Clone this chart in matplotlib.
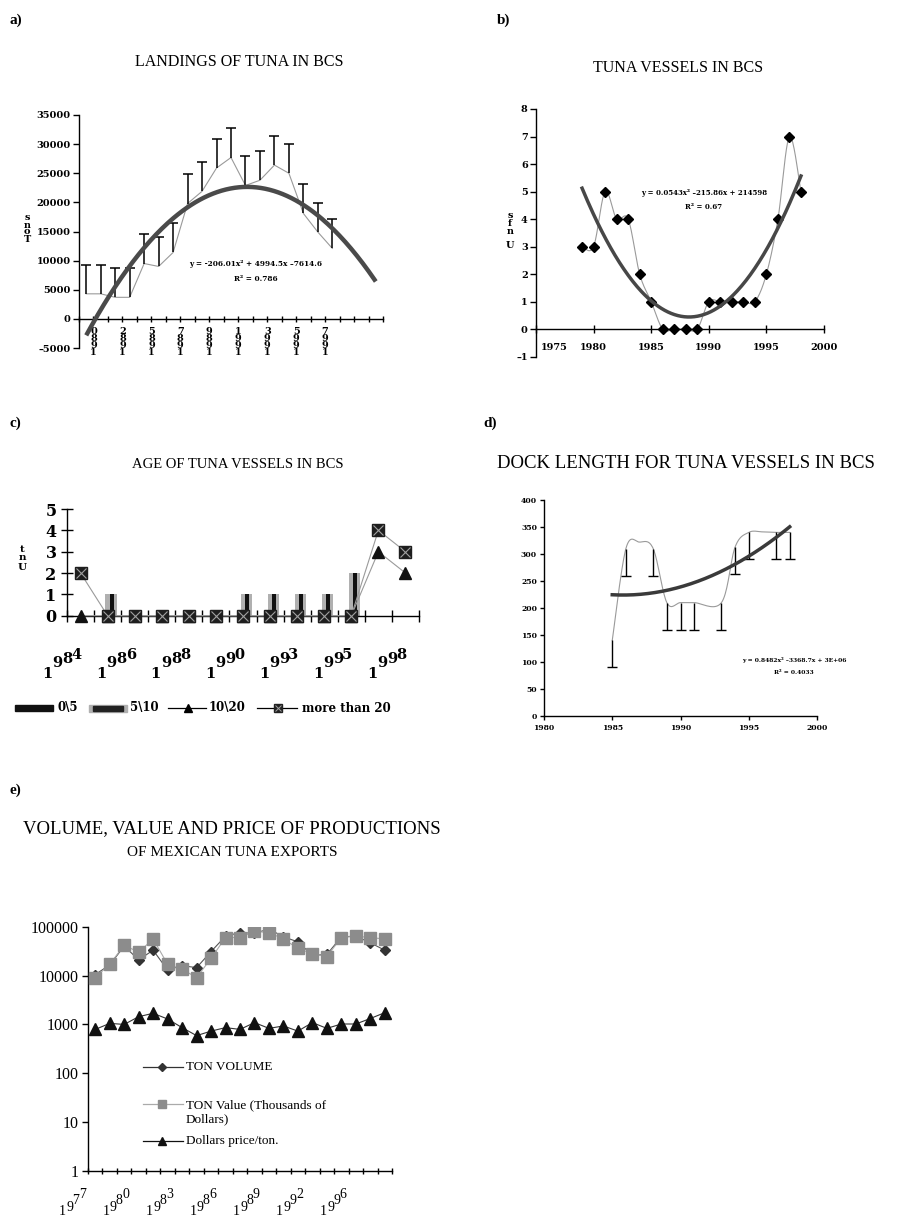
import numpy as np
import matplotlib
matplotlib.use('Agg')
import matplotlib.pyplot as plt
from matplotlib.transforms import ScaledTranslation

# ---------------- data ----------------
# a) landings of tuna in BCS
a_years = [1980, 1981, 1982, 1983, 1985, 1986, 1987, 1988, 1989, 1990,
           1991, 1992, 1993, 1994, 1995, 1996, 1997, 1998]
a_tons = [4300, 4300, 3700, 3700, 9500, 9000, 11400, 19800, 21900, 25900,
          27700, 22900, 23800, 26400, 25000, 18100, 14900, 12100]
a_err = [5000] * 18
a_coef = [-206.01, 4994.5, -7614.6]
a_forecast = 3
a_eq = "y = -206.01x² + 4994.5x –7614.6"
a_r2 = "R² = 0.786"

# b) tuna vessels in BCS
b_years = list(range(1979, 1999))
b_units = [3, 3, 5, 4, 4, 2, 1, 0, 0, 0, 0, 1, 1, 1, 1, 1, 2, 4, 7, 5]
b_eq = "y = 0.0543x² –215.86x + 214598"
b_r2 = "R² = 0.67"

# c) age of tuna vessels in BCS
c_years = [1984, 1985, 1986, 1987, 1988, 1989, 1990, 1991, 1993, 1994, 1995, 1997, 1998]
c_0_5 = [0, 1, 0, 0, 0, 0, 1, 1, 1, 1, 2, 0, 0]
c_5_10 = [0, 1, 0, 0, 0, 0, 1, 1, 1, 1, 2, 0, 0]
c_10_20 = [0, 0, 0, 0, 0, 0, 0, 0, 0, 0, 0, 3, 2]
c_more20 = [2, 0, 0, 0, 0, 0, 0, 0, 0, 0, 0, 4, 3]
c_names = ["0\\5", "5\\10", "10\\20", "more than 20"]

# d) dock length
d_years = [1985, 1986, 1987, 1988, 1989, 1990, 1991, 1993, 1994, 1995, 1996, 1997, 1998]
d_len = [140, 310, 322, 310, 210, 210, 210, 210, 313, 340, 341, 340, 340]
d_err = [50, 50, 0, 50, 50, 50, 50, 50, 50, 50, 0, 50, 50]
d_a, d_b = 0.8482, -3368.7
d_min = 224
d_eq = "y = 0.8482x² –3368.7x + 3E+06"
d_r2 = "R² = 0.4033"

# e) exports
e_years = list(range(1977, 1993)) + [1994, 1995, 1996, 1997, 1998]
e_volume = [10500, 16500, 40000, 21000, 33000, 13000, 16000, 14500, 31000, 64000,
            76000, 73000, 90000, 62000, 49000, 26000, 27000, 62000, 64000, 47000, 33000]
e_value = [9100, 17000, 42000, 30000, 56000, 17000, 13500, 9100, 22500, 60000,
           60000, 80000, 76000, 56000, 36000, 28000, 24500, 60000, 64000, 60000, 56000]
e_price = [790, 1050, 1000, 1440, 1690, 1290, 860, 590, 730, 860,
           790, 1090, 830, 930, 730, 1090, 830, 1020, 1020, 1320, 1740]
e_names = ["TON VOLUME", "TON Value (Thousands of\nDollars)", "Dollars price/ton."]

# ---------------- helpers ----------------
W, H = 907, 1223
fig = plt.figure(figsize=(W / 100, H / 100), dpi=100)
SB = dict(family='DejaVu Serif', weight='bold')
TM = dict(family='Liberation Serif')


def add_ax(x0, x1, yt, yb):
    return fig.add_axes([x0 / W, 1 - yb / H, (x1 - x0) / W, (yb - yt) / H])


def smooth(x, y, n=20):
    P = np.column_stack([np.asarray(x, float), np.asarray(y, float)])
    E = np.vstack([P[0], P, P[-1]])
    t = np.linspace(0, 1, n)[:, None]
    out = []
    for i in range(len(P) - 1):
        p0, p1, p2, p3 = E[i], E[i + 1], E[i + 2], E[i + 3]
        c1 = p1 + (p2 - p0) / 6
        c2 = p2 - (p3 - p1) / 6
        seg = (1 - t) ** 3 * p1 + 3 * (1 - t) ** 2 * t * c1 + 3 * (1 - t) * t ** 2 * c2 + t ** 3 * p2
        out.append(seg if i == 0 else seg[1:])
    S = np.vstack(out)
    return S[:, 0], S[:, 1]


def clean(ax):
    for s in ['top', 'right']:
        ax.spines[s].set_visible(False)
    for s in ['left', 'bottom']:
        ax.spines[s].set_linewidth(1.0)


def stair(ax, x, y, text, offs, size, fontd):
    for ch, (dx, dy) in zip(text, offs):
        ax.annotate(ch, xy=(x, y), xycoords='data', xytext=(dx, -dy),
                    textcoords='offset pixels', ha='center', va='baseline',
                    fontsize=size, annotation_clip=False, **fontd)


# overlay for titles and legends
ov = fig.add_axes([0, 0, 1, 1], zorder=10)
ov.set_xlim(0, W)
ov.set_ylim(H, 0)
ov.axis('off')
ov.patch.set_alpha(0)

# ---------------- panel a ----------------
ax = add_ax(79, 383, 115, 348)
clean(ax)
n = len(a_years)
xa = np.arange(1, n + 1)
ax.set_xlim(0.5, n + a_forecast + 0.5)
ax.set_ylim(-5000, 35000)
ax.spines['bottom'].set_position(('data', 0))
ax.plot(xa, a_tons, color='#9a9a9a', lw=0.8, zorder=2)
eb = ax.errorbar(xa, a_tons, yerr=[np.zeros(n), a_err], fmt='none', ecolor='black',
                 elinewidth=1.1, capsize=3.5, capthick=1.1, zorder=3)
eb[1][0].set_visible(False)
xt = np.linspace(1, n + a_forecast, 200)
ax.plot(xt, np.polyval(a_coef, xt), color='#4a4a4a', lw=3.2, zorder=4, solid_capstyle='butt')
ax.set_xticks(np.arange(0.5, n + a_forecast + 1, 1))
ax.set_xticklabels([])
ax.tick_params(axis='x', direction='inout', length=5, width=1)
ax.set_yticks(np.arange(-5000, 35001, 5000))
ax.set_yticklabels([("–5000" if v < 0 else str(v)) for v in range(-5000, 35001, 5000)],
                   fontsize=7, **SB)
ax.tick_params(axis='y', direction='out', length=4, width=1, pad=2)
for i, yr in enumerate(a_years):
    if i % 2 == 0:
        chars = list(str(yr))[::-1]
        for k, ch in enumerate(chars):
            ax.annotate(ch, xy=(i + 1.5, 0), xytext=(0, -(15 + 7 * k)),
                        textcoords='offset pixels', ha='center', va='baseline',
                        fontsize=7, annotation_clip=False, **SB)
for ch, yy in zip("snoT", [218, 225, 232, 239]):
    ov.text(27, yy, ch, ha='center', va='center', fontsize=7, **SB)
ov.text(256, 264, a_eq, ha='center', va='center', fontsize=5.3, **SB)
ov.text(256, 279, a_r2, ha='center', va='center', fontsize=5.3, **SB)
ov.text(10, 20, "a)", ha='left', va='center', fontsize=11, weight='bold', **TM)
ov.text(239, 62, "LANDINGS OF TUNA IN BCS", ha='center', va='center', fontsize=11.5, **TM)

# ---------------- panel b ----------------
ax = add_ax(536, 824, 109, 356.7)
clean(ax)
ax.set_xlim(1975, 2000)
ax.set_ylim(-1, 8)
ax.spines['bottom'].set_position(('data', 0))
sx, sy = smooth(b_years, b_units)
ax.plot(sx, sy, color='#9a9a9a', lw=0.8, zorder=2)
ax.plot(b_years, b_units, 'D', color='black', ms=5.5, zorder=3, clip_on=False)
bc = np.polyfit(b_years, b_units, 2)
xt = np.linspace(b_years[0], b_years[-1], 200)
ax.plot(xt, np.polyval(bc, xt), color='#474747', lw=2.5, zorder=4)
ax.set_xticks(range(1975, 2001, 5))
ax.set_xticklabels([str(v) for v in range(1975, 2001, 5)], fontsize=7, **SB)
ax.tick_params(axis='x', direction='inout', length=6, width=1, pad=7)
lab0 = ax.get_xticklabels()[0]
lab0.set_transform(lab0.get_transform() + ScaledTranslation(0.18, 0, fig.dpi_scale_trans))
ax.set_yticks(range(-1, 9))
ax.set_yticklabels([("–1" if v < 0 else str(v)) for v in range(-1, 9)], fontsize=7, **SB)
ax.tick_params(axis='y', direction='out', length=4, width=1, pad=2)
for ch, yy in zip("sfnU", [216, 223, 231, 245]):
    ov.text(510, yy, ch, ha='center', va='center', fontsize=7, **SB)
ov.text(704, 193, b_eq, ha='center', va='center', fontsize=5.0, **SB)
ov.text(704, 207, b_r2, ha='center', va='center', fontsize=5.0, **SB)
ov.text(497, 20, "b)", ha='left', va='center', fontsize=11, weight='bold', **TM)
ov.text(678, 68, "TUNA VESSELS IN BCS", ha='center', va='center', fontsize=11.5, **TM)

# ---------------- panel c ----------------
ax = add_ax(67, 419, 509, 615.7)
clean(ax)
nc = len(c_years)
xc = np.arange(1, nc + 1)
ax.set_xlim(0.5, nc + 0.5)
ax.set_ylim(0, 5)
ax.bar(xc + 0.12, c_5_10, width=0.42, color='#b0b0b0', zorder=2)
ax.bar(xc + 0.15, c_0_5, width=0.15, color='#111111', zorder=3)
ax.plot(xc, c_10_20, color='#9a9a9a', lw=0.8, zorder=4, clip_on=False)
ax.plot(xc, c_10_20, '^', color='#111111', ms=8, zorder=5, clip_on=False)
ax.plot(xc, c_more20, color='#9a9a9a', lw=0.8, zorder=4, clip_on=False)
ax.plot(xc, c_more20, 's', mfc='#1e1e1e', mec='#1e1e1e', ms=8.5, zorder=6, clip_on=False)
ax.plot(xc, c_more20, 'x', mec='#a0a0a0', ms=7, mew=0.8, zorder=7, clip_on=False)
ax.set_xticks(np.arange(0.5, nc + 1, 1))
ax.set_xticklabels([])
ax.tick_params(axis='x', direction='inout', length=9, width=1)
ax.set_yticks(range(0, 6))
ax.set_yticklabels([str(v) for v in range(6)], fontsize=11.5, **SB)
ax.tick_params(axis='y', direction='inout', length=9, width=1, pad=3)
c_offs = [(-33, 62), (-23, 51), (-13, 47), (-4, 43)]
for i, yr in enumerate(c_years):
    if i % 2 == 0:
        stair(ax, i + 1, 0, str(yr), c_offs, 10.5, SB)
for ch, yy in zip("tnU", [549, 557, 567]):
    ov.text(22, yy, ch, ha='center', va='center', fontsize=7.5, **SB)
# legend
ly = 708
ov.add_patch(plt.Rectangle((15, ly - 3), 38, 6, color='#111111'))
ov.text(58, ly, c_names[0], ha='left', va='center', fontsize=8.5, **SB)
ov.add_patch(plt.Rectangle((89, ly - 3.5), 38, 7, color='#b0b0b0'))
ov.add_patch(plt.Rectangle((93, ly - 2.5), 30, 5, color='#222222'))
ov.text(130, ly, c_names[1], ha='left', va='center', fontsize=8.5, **SB)
ov.plot([168, 206], [ly, ly], color='black', lw=0.9)
ov.plot([188], [ly], '^', color='black', ms=6)
ov.text(209, ly, c_names[2], ha='left', va='center', fontsize=8.5, **SB)
ov.plot([257, 297], [ly, ly], color='black', lw=0.9)
ov.plot([278], [ly], 's', color='#222222', ms=6)
ov.plot([278], [ly], 'x', mec='#a0a0a0', ms=5, mew=0.7)
ov.text(302, ly, c_names[3], ha='left', va='center', fontsize=8.5, **SB)
ov.text(10, 423, "c)", ha='left', va='center', fontsize=11, weight='bold', **TM)
ov.text(238, 464, "AGE OF TUNA VESSELS IN BCS", ha='center', va='center', fontsize=10.5, **TM)

# ---------------- panel d ----------------
ax = add_ax(544, 817, 500, 716)
clean(ax)
ax.set_xlim(1980, 2000)
ax.set_ylim(0, 400)
sx, sy = smooth(d_years, d_len)
ax.plot(sx, sy, color='#9a9a9a', lw=0.8, zorder=2)
dy = np.array(d_years, float)
dl = np.array(d_len, float)
de = np.array(d_err, float)
m = de > 0
eb = ax.errorbar(dy[m], dl[m], yerr=[de[m], np.zeros(m.sum())], fmt='none', ecolor='black',
                 elinewidth=1.0, capsize=3.5, capthick=1.0, zorder=3)
eb[1][1].set_visible(False)
xv = -d_b / (2 * d_a)
xt = np.linspace(d_years[0], d_years[-1], 200)
ax.plot(xt, d_a * (xt - xv) ** 2 + d_min, color='#3a3a3a', lw=2.5, zorder=4)
ax.set_xticks(range(1980, 2001, 5))
ax.set_xticklabels([str(v) for v in range(1980, 2001, 5)], fontsize=5.5, **SB)
ax.tick_params(axis='x', direction='out', length=3, width=1, pad=3)
ax.set_yticks(range(0, 401, 50))
ax.set_yticklabels([str(v) for v in range(0, 401, 50)], fontsize=5.5, **SB)
ax.tick_params(axis='y', direction='out', length=3, width=1, pad=2)
ov.text(794, 660, d_eq, ha='center', va='center', fontsize=4.3, **SB)
ov.text(794, 672, d_r2, ha='center', va='center', fontsize=4.3, **SB)
ov.text(483, 423, "d)", ha='left', va='center', fontsize=11, weight='bold', **TM)
ov.text(686, 464, "DOCK LENGTH FOR TUNA VESSELS IN BCS", ha='center', va='center', fontsize=13.5, **TM)

# ---------------- panel e ----------------
ax = add_ax(88, 392, 926.7, 1171)
clean(ax)
ne = len(e_years)
xe = np.arange(1, ne + 1)
ax.set_yscale('log')
ax.set_xlim(0.5, ne + 0.5)
ax.set_ylim(1, 100000)
ax.plot(xe, e_volume, color='#555555', lw=0.8, zorder=2)
ax.plot(xe, e_volume, 'D', color='#333333', ms=5, zorder=3)
ax.plot(xe, e_value, color='#aaaaaa', lw=0.8, zorder=4)
ax.plot(xe, e_value, 's', color='#8c8c8c', ms=8.5, zorder=5)
ax.plot(xe, e_price, color='#333333', lw=0.8, zorder=2)
ax.plot(xe, e_price, '^', color='#111111', ms=8, zorder=6)
ax.set_yticks([1, 10, 100, 1000, 10000, 100000])
ax.set_yticklabels(['1', '10', '100', '1000', '10000', '100000'], fontsize=11.5, **TM)
ax.yaxis.set_minor_locator(matplotlib.ticker.NullLocator())
ax.tick_params(axis='y', direction='out', length=4, width=1, pad=3)
ax.set_xticks(np.arange(0.5, ne + 1, 1))
ax.set_xticklabels([])
ax.tick_params(axis='x', direction='inout', length=5, width=1)
e_offs = [(-25.5, 44), (-18, 40), (-12, 33), (-5.5, 27)]
for i, yr in enumerate(e_years):
    if i % 3 == 0:
        stair(ax, i + 0.5, 1, str(yr), e_offs, 10, TM)
# legend
ov.plot([143, 183], [1067, 1067], color='#333333', lw=0.9)
ov.plot([162], [1067], 'D', color='#333333', ms=4)
ov.text(186, 1067, e_names[0], ha='left', va='center', fontsize=9.5, **TM)
ov.plot([143, 183], [1104, 1104], color='#aaaaaa', lw=0.9)
ov.plot([162], [1104], 's', color='#8c8c8c', ms=6)
ov.text(186, 1112, e_names[1], ha='left', va='center', fontsize=9.5, linespacing=1.25, **TM)
ov.plot([143, 183], [1141, 1141], color='#111111', lw=0.9)
ov.plot([162], [1141], '^', color='#111111', ms=6)
ov.text(186, 1141, e_names[2], ha='left', va='center', fontsize=9.5, **TM)
ov.text(10, 790, "e)", ha='left', va='center', fontsize=11, weight='bold', **TM)
ov.text(232, 829, "VOLUME, VALUE AND PRICE OF PRODUCTIONS", ha='center', va='center', fontsize=13.5, **TM)
ov.text(232, 852, "OF MEXICAN TUNA EXPORTS", ha='center', va='center', fontsize=11, **TM)

fig.savefig('out.png', dpi=100)
